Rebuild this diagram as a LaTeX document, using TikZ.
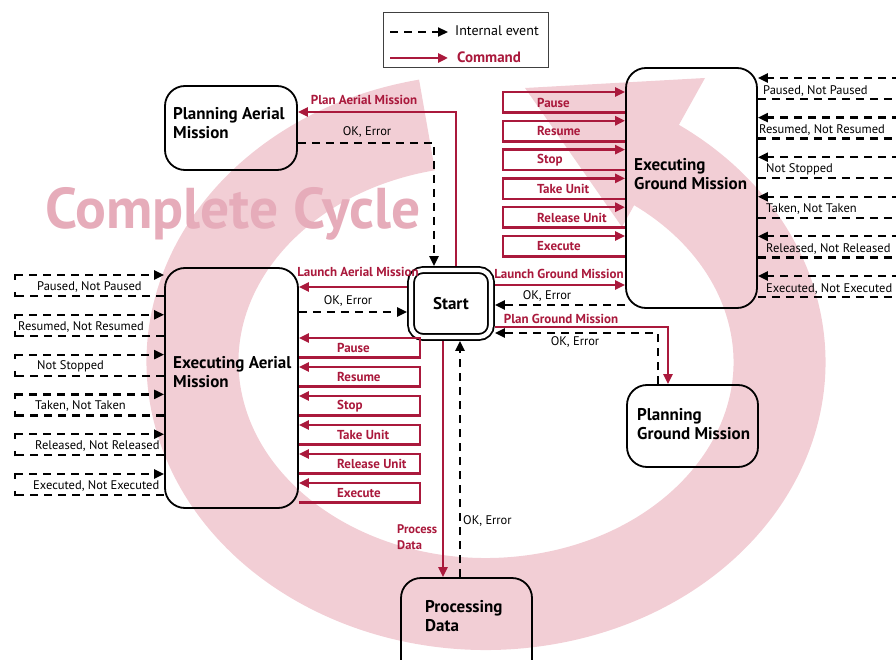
\documentclass[tikz,border=0pt]{standalone}
\usepackage{fontspec}
\setmainfont{PT Sans}
\usetikzlibrary{arrows.meta,calc}
\definecolor{cred}{RGB}{170,25,60}
\definecolor{ringc}{RGB}{242,206,213}
\definecolor{cyclec}{RGB}{230,172,186}
\tikzset{
  box/.style={draw=black, line width=1.8pt, rounded corners=20pt, inner sep=0pt, outer sep=0.9pt},
  btext/.style={font=\fontsize{17}{19}\selectfont\bfseries, align=left, anchor=west, inner sep=0pt},
  cmd/.style={draw=cred, line width=2.5pt, -{Triangle[length=10pt,width=9pt]}},
  cmdline/.style={draw=cred, line width=2.5pt},
  ev/.style={draw=black, line width=2.2pt, dash pattern=on 8pt off 6pt, -{Triangle[length=10pt,width=9pt]}},
  evline/.style={draw=black, line width=2.2pt, dash pattern=on 8pt off 6pt},
  evtick/.style={draw=black, line width=2.2pt},
  cmdlab/.style={font=\fontsize{13}{15}\selectfont\bfseries, text=cred, inner sep=0pt},
  evlab/.style={font=\fontsize{12.5}{14}\selectfont, inner sep=0pt},
}
\begin{document}
\begin{tikzpicture}[x=1pt,y=-1pt]
\path[use as bounding box] (0,0) rectangle (896,660);
\clip (0,0) rectangle (896,660);
% background cycle arrow
\draw[ringc, line width=92pt] (486,362) ++(258.4:293.5 and 242)
  arc[start angle=258.4, end angle=-56, x radius=293.5, y radius=242];
\fill[ringc] (525,88) -- (705,78) -- (622,227) -- cycle;
\node[font=\fontsize{57.5}{60}\selectfont\bfseries, text=cyclec, anchor=base west, inner sep=0pt] (cc) at (45,229) {Complete Cycle};

% legend
\node[draw=black!75, line width=0.8pt, fill=white, minimum width=165pt, minimum height=55pt, inner sep=0pt] (legend) at (465.5,39.5) {};
\coordinate (l1a) at (390,32); \coordinate (l1b) at (448,32);
\coordinate (l2a) at (390,58); \coordinate (l2b) at (448,58);
\draw[ev] (l1a) -- (l1b);
\draw[cmd] (l2a) -- (l2b);
\node[font=\fontsize{14}{16}\selectfont, anchor=west, inner sep=0pt] (lt1) at (455,31) {Internal event};
\node[font=\fontsize{15}{17}\selectfont\bfseries, text=cred, anchor=west, inner sep=0pt] (lt2) at (457,57) {Command};

% boxes
\node[box, minimum width=132pt, minimum height=84pt] (pam) at (231,128) {};
\node[btext] (pamt) at (173,123.5) {Planning Aerial\\Mission};
\node[box, minimum width=133pt, minimum height=240pt] (eam) at (231.5,388) {};
\node[btext] (eamt) at (173,372.5) {Executing Aerial\\Mission};
\node[box, minimum width=131pt, minimum height=240pt] (egm) at (691.5,188) {};
\node[btext] (egmt) at (634,174.5) {Executing\\Ground Mission};
\node[box, minimum width=131pt, minimum height=82pt] (pgm) at (692.5,426) {};
\node[btext] (pgmt) at (637,424.5) {Planning\\Ground Mission};
\node[box, minimum width=131pt, minimum height=112pt] (pd) at (466.5,634) {};
\node[btext] (pdt) at (425,616.5) {Processing\\Data};
\node[draw=black, line width=1.8pt, double=white, double distance=4.2pt, rounded corners=12pt,
      minimum width=80pt, minimum height=67pt, inner sep=0pt, outer sep=3.9pt,
      font=\fontsize{17}{19}\selectfont\bfseries] (start) at (451,303.5) {Start};

% Planning aerial
\draw[cmd] (start.north -| 456,0) -- (456,112) -- (pam.east |- 0,112);
\node[cmdlab] (l_pam) at (364,100) {Plan Aerial Mission};
\draw[ev] (pam.east |- 0,143) -- (434,143) -- (start.north -| 434,0);
\node[evlab] (l_pamok) at (367,132) {OK, Error};

% launch aerial
\draw[cmd] (start.west |- 0,287) -- (eam.east |- 0,287);
\node[cmdlab] (l_la) at (358,272) {Launch Aerial Mission};
\draw[ev] (eam.east |- 0,312) -- (start.west |- 0,312);
\node[evlab] (l_laok) at (348,301) {OK, Error};

% aerial commands
\foreach \t/\lab [count=\i] in {338/Pause,367/Resume,396/Stop,425/Take Unit,454/Release Unit,483/Execute}{
  \draw[cmd] (eam.east |- 0,\t+19.5) -- (420,\t+19.5) -- (420,\t) -- (eam.east |- 0,\t);
  \node[cmdlab, anchor=west] (ac\i) at (337,\t+10) {\lab};
}

% ground commands
\foreach \t/\lab [count=\i] in {92/Pause,120.8/Resume,149.6/Stop,178.4/Take Unit,207.2/Release Unit,236/Execute}{
  \draw[cmd] (egm.west |- 0,\t+20.5) -- (503,\t+20.5) -- (503,\t) -- (egm.west |- 0,\t);
  \node[cmdlab, anchor=west] (gc\i) at (537,\t+10.5) {\lab};
}

% launch ground
\draw[cmd] (start.east |- 0,285) -- (egm.west |- 0,285);
\node[cmdlab] (l_lg) at (559,274) {Launch Ground Mission};
\draw[ev] (egm.west |- 0,305) -- (start.east |- 0,305);
\node[evlab] (l_lgok) at (547,296) {OK, Error};

% plan ground
\draw[cmd] (start.east |- 0,327) -- (668,327) -- (pgm.north -| 668,0);
\node[cmdlab] (l_pg) at (561,319) {Plan Ground Mission};
\draw[ev] (pgm.north -| 658,0) -- (658,333) -- (start.east |- 0,333);
\node[evlab] (l_pgok) at (575,342) {OK, Error};

% processing data
\draw[cmd] (start.south -| 443,0) -- (pd.north -| 443,0);
\node[cmdlab, align=left, anchor=west, font=\fontsize{12.5}{16}\selectfont\bfseries] (l_pd) at (397,537) {Process\\Data};
\draw[ev] (pd.north -| 460,0) -- (start.south -| 460,0);
\node[evlab, anchor=west] (l_pdok) at (463,521) {OK, Error};

% left feedback loops
\foreach \t/\x/\lab [count=\i] in {275/37/{Paused, Not Paused},314.8/18/{Resumed, Not Resumed},354.6/37/{Not Stopped},394.4/35/{Taken, Not Taken},434.2/35/{Released, Not Released},474/33/{Executed, Not Executed}}{
  \coordinate (lf\i a) at (15,\t);
  \coordinate (lf\i b) at (15,\t+21);
  \draw[evline] (eam.west |- 0,\t+21) -- (lf\i b);
  \draw[evtick] ([yshift=-1.1pt]lf\i b) -- ([yshift=4.5pt]lf\i b);
  \draw[evtick] ([yshift=1.1pt]lf\i a) -- ([yshift=-4.5pt]lf\i a);
  \draw[ev] (lf\i a) -- (eam.west |- 0,\t);
  \node[evlab, anchor=west] (lf\i t) at (\x,\t+12) {\lab};
}

% right feedback loops
\foreach \t/\x/\lab [count=\i] in {78/763/{Paused, Not Paused},117.6/759/{Resumed, Not Resumed},157.2/766/{Not Stopped},196.8/766/{Taken, Not Taken},236.4/766/{Released, Not Released},276/766/{Executed, Not Executed}}{
  \coordinate (rf\i a) at (900,\t);
  \coordinate (rf\i b) at (900,\t+21);
  \draw[ev] (rf\i a) -- (egm.east |- 0,\t);
  \draw[evline] (egm.east |- 0,\t+21) -- (rf\i b);
  \node[evlab, anchor=west] (rl\i) at (\x,\t+12.5) {\lab};
}
\end{tikzpicture}
\end{document}
